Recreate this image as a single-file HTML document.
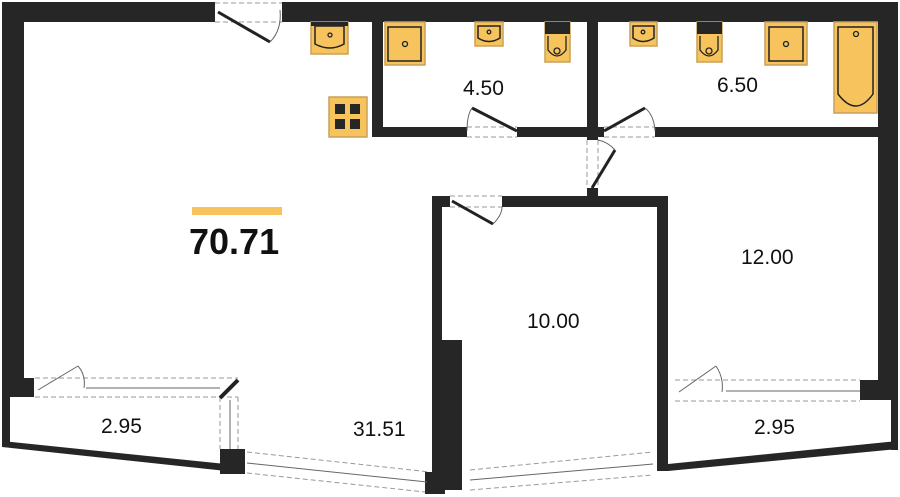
<!DOCTYPE html>
<html><head><meta charset="utf-8"><style>
html,body{margin:0;padding:0;background:#fff;}
svg{display:block;}
text{font-family:"Liberation Sans",sans-serif;fill:#111;}
</style></head><body>
<svg width="900" height="497" viewBox="0 0 900 497" xmlns="http://www.w3.org/2000/svg">
<g fill="#262626">
<!-- top wall -->
<rect x="2" y="2" width="213" height="20"/>
<rect x="282" y="2" width="616" height="20"/>
<!-- left wall -->
<rect x="2" y="2" width="22" height="395"/>
<rect x="2" y="397" width="8" height="50"/>
<!-- right wall -->
<rect x="878" y="2" width="20" height="398"/>
<rect x="891" y="398" width="7" height="52"/>
<!-- kitchen/bath vertical -->
<rect x="372" y="22" width="11" height="115"/>
<!-- bath horizontal wall -->
<rect x="372" y="127" width="95" height="10"/>
<rect x="517" y="127" width="87" height="10"/>
<rect x="655" y="127" width="223" height="10"/>
<!-- between baths -->
<rect x="587" y="22" width="11" height="118"/>
<rect x="587" y="188" width="11" height="10"/>
<!-- room 10 top wall -->
<rect x="432" y="196" width="18" height="11"/>
<rect x="502" y="196" width="165" height="11"/>
<!-- room 10 right wall -->
<rect x="657" y="196" width="11" height="275"/>
<!-- room 10 left wall -->
<rect x="432" y="196" width="10" height="290"/>
<rect x="442" y="340" width="20" height="150"/>
<rect x="425" y="472" width="20" height="22"/>
<!-- left balcony bottom -->
<polygon points="2,441 245,466 245,473 2,447"/>
<rect x="220" y="449" width="25" height="25"/>
<!-- right balcony -->
<polygon points="668,464 898,441 898,449 668,471"/>
<rect x="860" y="380" width="18" height="20"/>
<rect x="24" y="378" width="10" height="19"/>
</g>
<!-- doors -->
<g stroke="#999" stroke-width="1" stroke-dasharray="5,3" fill="none">
<line x1="215" y1="3" x2="282" y2="3"/><line x1="215" y1="22" x2="282" y2="22"/>
<line x1="467" y1="127" x2="517" y2="127"/><line x1="467" y1="137" x2="517" y2="137"/>
<line x1="604" y1="127" x2="655" y2="127"/><line x1="604" y1="137" x2="655" y2="137"/>
<line x1="587" y1="140" x2="587" y2="188"/><line x1="598" y1="140" x2="598" y2="188"/>
<line x1="450" y1="196" x2="502" y2="196"/><line x1="450" y1="207" x2="502" y2="207"/>
<line x1="35" y1="378" x2="238" y2="378"/><line x1="35" y1="397" x2="238" y2="397"/>
<line x1="220" y1="397" x2="220" y2="449"/><line x1="238" y1="397" x2="238" y2="449"/>
<line x1="675" y1="380" x2="860" y2="380"/><line x1="675" y1="401" x2="860" y2="401"/>
<line x1="247" y1="452" x2="430" y2="472"/><line x1="247" y1="473" x2="425" y2="492"/>
<line x1="470" y1="470" x2="653" y2="452"/><line x1="470" y1="490" x2="653" y2="475"/>
</g>
<g stroke="#222" stroke-width="3" fill="none">
<line x1="218" y1="12" x2="270" y2="42"/>
<line x1="517" y1="131" x2="472" y2="108"/>
<line x1="604" y1="131" x2="645" y2="108"/>
<line x1="592" y1="188" x2="615" y2="150"/>
<line x1="452" y1="201" x2="493" y2="224"/>
</g>
<g stroke="#666" stroke-width="1" fill="none">
<path d="M270,42 Q282,30 280,10"/>
<path d="M472,108 Q467,115 467,131"/>
<path d="M645,108 Q654,115 655,131"/>
<path d="M615,150 Q608,142 598,140"/>
<path d="M493,224 Q502,215 502,207"/>
<line x1="38" y1="390" x2="78" y2="366"/><path d="M78,366 Q86,375 84,388"/>
<line x1="86" y1="388" x2="220" y2="388"/>
<line x1="230" y1="400" x2="230" y2="449"/>
<line x1="679" y1="392" x2="716" y2="366"/><path d="M716,366 Q724,378 722,392"/>
<line x1="726" y1="391" x2="860" y2="391"/>
<line x1="247" y1="463" x2="427" y2="482"/>
<line x1="470" y1="480" x2="653" y2="464"/>
</g>
<line x1="220" y1="398" x2="238" y2="380" stroke="#222" stroke-width="4"/>
<!-- fixtures -->
<g fill="#f7c35d" stroke="#222" stroke-width="1.5">
<rect x="311" y="22" width="37" height="32" stroke="#c9a15a"/>
<path d="M315,26 L344,26 L344,44 Q330,52 315,44 Z"/>
<rect x="385" y="22" width="40" height="43" stroke="#c9a15a"/>
<rect x="388" y="27" width="33" height="34"/>
<rect x="329" y="97" width="38" height="40" stroke="#c9a15a"/>
<rect x="475" y="22" width="28" height="24" stroke="#c9a15a"/>
<path d="M478,26 L500,26 L500,38 Q489,45 478,38 Z"/>
<rect x="545" y="22" width="25" height="40" stroke="#c9a15a"/>
<rect x="630" y="22" width="27" height="24" stroke="#c9a15a"/>
<path d="M633,26 L654,26 L654,38 Q643,45 633,38 Z"/>
<rect x="697" y="22" width="25" height="40" stroke="#c9a15a"/>
<rect x="765" y="22" width="42" height="43" stroke="#c9a15a"/>
<rect x="769" y="27" width="34" height="34"/>
<rect x="834" y="22" width="43" height="91" stroke="#c9a15a"/>
<path d="M838,27 L873,27 L873,94 Q856,118 838,94 Z"/>
</g>
<g fill="#262626">
<rect x="311" y="22" width="37" height="4"/>
<rect x="545" y="22" width="25" height="12"/>
<rect x="697" y="22" width="25" height="12"/>
<rect x="335" y="104" width="10" height="10"/><rect x="350" y="104" width="10" height="10"/>
<rect x="335" y="119" width="10" height="10"/><rect x="350" y="119" width="10" height="10"/>
</g>
<g fill="none" stroke="#222" stroke-width="1.3">
<path d="M548,36 L548,50 Q557,62 566,50 L566,36"/>
<path d="M700,36 L700,50 Q709,62 718,50 L718,36"/>
<circle cx="330" cy="35" r="2"/><circle cx="405" cy="44" r="2.5"/>
<circle cx="489" cy="32" r="1.8"/><circle cx="557" cy="51" r="3"/>
<circle cx="643" cy="32" r="1.8"/><circle cx="709" cy="51" r="3"/>
<circle cx="786" cy="44" r="2.5"/><circle cx="856" cy="34" r="2.5"/>
</g>
<rect x="192" y="207" width="90" height="8" fill="#f7c35d"/>
<text x="189" y="254" font-size="36" font-weight="bold">70.71</text>
<g font-size="21">
<text x="463" y="95">4.50</text>
<text x="717" y="92">6.50</text>
<text x="741" y="264">12.00</text>
<text x="527" y="328">10.00</text>
<text x="101" y="433">2.95</text>
<text x="353" y="436">31.51</text>
<text x="754" y="434">2.95</text>
</g>
</svg>
</body></html>
